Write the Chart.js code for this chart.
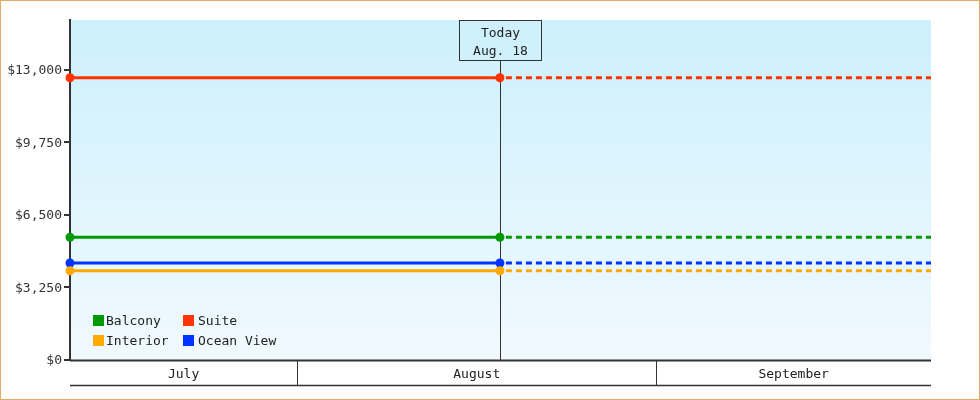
<!DOCTYPE html>
<html>
<head>
<meta charset="utf-8">
<script src="https://cdn.jsdelivr.net/npm/chart.js@4/dist/chart.umd.min.js"></script>
<style>
  html, body { margin: 0; padding: 0; background: #fff; }
  #wrap { width: 980px; height: 400px; position: relative; }
</style>
</head>
<body>
<div id="wrap"><canvas id="myChart" width="980" height="400"></canvas></div>
<script>
// days counted from July 1 (July 1 = 0, Aug 1 = 31, Sep 1 = 62)
const xDays = [11.4, 48.5, 85.7];
const todayIndex = 1;
const todayLabel = ['Today', 'Aug. 18'];
const monthNames = ['July', 'August', 'September'];
const monthStarts = [0, 31, 62, 92];

const seriesNames = ['Balcony', 'Suite', 'Interior', 'Ocean View'];
const seriesColors = ['#009900', '#ff3300', '#ffaa00', '#0033ff'];
const balcony = [5500, 5500, 5500];
const suite = [12650, 12650, 12650];
const interior = [4000, 4000, 4000];
const oceanView = [4350, 4350, 4350];
const seriesValues = [balcony, suite, interior, oceanView];

const yTicks = [0, 3250, 6500, 9750, 13000];
const yMax = 15240;

Chart.defaults.font.family = '"DejaVu Sans Mono", monospace';
Chart.defaults.font.size = 13;
Chart.defaults.color = '#333';

const bgPlugin = {
  id: 'bg',
  beforeDraw(chart) {
    const c = chart.ctx, a = chart.chartArea;
    c.save();
    c.fillStyle = '#fff';
    c.fillRect(0, 0, chart.width, chart.height);
    const g = c.createLinearGradient(0, a.top, 0, a.bottom);
    g.addColorStop(0, '#ccf0fc');
    g.addColorStop(1, '#f1f9fe');
    c.fillStyle = g;
    c.fillRect(a.left, a.top, a.right - a.left, a.bottom - a.top);
    c.strokeStyle = '#e9aa66';
    c.lineWidth = 1;
    c.strokeRect(0.5, 0.5, chart.width - 1, chart.height - 1);
    c.restore();
  },
  beforeDatasetsDraw(chart) {
    const c = chart.ctx, a = chart.chartArea;
    const x = Math.round(chart.scales.x.getPixelForValue(xDays[todayIndex])) + 0.5;
    c.save();
    c.strokeStyle = '#333';
    c.lineWidth = 1;
    c.beginPath();
    c.moveTo(x, a.top + 40);
    c.lineTo(x, a.bottom);
    c.stroke();
    c.restore();
  },
  afterDraw(chart) {
    const c = chart.ctx, a = chart.chartArea, xs = chart.scales.x;
    c.save();
    // month band axis
    c.strokeStyle = '#333';
    c.lineWidth = 2;
    c.beginPath();
    c.moveTo(a.left, a.bottom + 0.5);
    c.lineTo(a.right, a.bottom + 0.5);
    c.stroke();
    c.lineWidth = 1.5;
    c.beginPath();
    c.moveTo(a.left, a.bottom + 25.5);
    c.lineTo(a.right, a.bottom + 25.5);
    c.stroke();
    c.lineWidth = 1;
    c.fillStyle = '#222';
    c.textAlign = 'center';
    c.textBaseline = 'middle';
    c.font = '13px "DejaVu Sans Mono", monospace';
    for (let i = 0; i < monthNames.length; i++) {
      const l = Math.max(a.left, xs.getPixelForValue(monthStarts[i]));
      const r = Math.min(a.right, xs.getPixelForValue(monthStarts[i + 1]));
      if (i > 0) {
        const px = Math.round(l) + 0.5;
        c.beginPath();
        c.moveTo(px, a.bottom);
        c.lineTo(px, a.bottom + 25);
        c.stroke();
      }
      c.fillText(monthNames[i], (l + r) / 2, a.bottom + 14.5);
    }
    // today box
    const tx = Math.round(xs.getPixelForValue(xDays[todayIndex])) + 0.5;
    c.strokeRect(tx - 41, a.top + 0.5, 82, 40);
    c.fillText(todayLabel[0], tx, a.top + 13.5);
    c.fillText(todayLabel[1], tx, a.top + 31.5);
    // legend inside plot
    c.textAlign = 'left';
    const colX = [23, 113];
    chart.data.datasets.forEach((ds, i) => {
      const col = i % 2, row = Math.floor(i / 2);
      const lx = a.left + colX[col];
      const ly = a.top + 295 + row * 20;
      c.fillStyle = ds.borderColor;
      c.fillRect(lx, ly, 11, 11);
      c.fillStyle = '#222';
      c.fillText(ds.label, lx + 13 + col * 2, ly + 7);
    });
    c.restore();
  }
};

const ctx = document.getElementById('myChart');
new Chart(ctx, {
  type: 'line',
  data: {
    datasets: seriesNames.map((name, i) => ({
      label: name,
      data: seriesValues[i].map((v, j) => ({ x: xDays[j], y: v })),
      borderColor: seriesColors[i],
      backgroundColor: seriesColors[i],
      borderWidth: 3,
      pointRadius: xDays.map((d, j) => j <= todayIndex ? 4.5 : 0),
      pointBorderWidth: 0,
      clip: false,
      segment: {
        borderDash: c => c.p0DataIndex >= todayIndex ? [6, 4] : undefined,
        borderDashOffset: c => c.p0DataIndex >= todayIndex ? -6 : 0
      }
    }))
  },
  options: {
    responsive: false,
    maintainAspectRatio: false,
    animation: false,
    layout: { padding: { left: 0, top: 20, right: 49, bottom: 40 } },
    plugins: { legend: { display: false }, tooltip: { enabled: false } },
    scales: {
      x: {
        type: 'linear',
        display: false,
        min: xDays[0],
        max: xDays[xDays.length - 1]
      },
      y: {
        min: 0,
        max: yMax,
        afterFit: s => { s.width = 70; },
        afterBuildTicks: s => { s.ticks = yTicks.map(v => ({ value: v })); },
        border: { color: '#333', width: 2 },
        grid: { drawOnChartArea: false, color: '#333', lineWidth: 2, tickLength: 6 },
        ticks: {
          padding: 2,
          labelOffset: 1,
          color: '#333',
          callback: v => '$' + v.toLocaleString('en-US')
        }
      }
    }
  },
  plugins: [bgPlugin]
});
</script>
</body>
</html>
